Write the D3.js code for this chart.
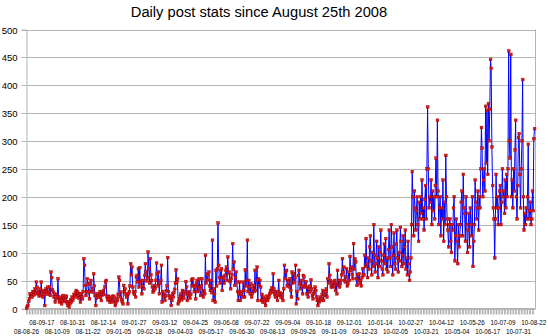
<!DOCTYPE html>
<html><head><meta charset="utf-8">
<script src="https://cdn.jsdelivr.net/npm/d3@7"></script>
<style>
html,body{margin:0;padding:0;background:#fff;}
svg{display:block;font-family:"Liberation Sans",Arial,sans-serif;}
</style></head>
<body><svg id="chart" width="548" height="336"></svg>
<script>
const title = "Daily post stats since August 25th 2008";
const startDate = "2008-08-26";
const yTicks = [0,50,100,150,200,250,300,350,400,450,500];
const labelEvery = 22;
// daily posts, one value per day from 2008-08-26
const posts2008a = [0,3,5,12,17,26,22,25,20,30,29,24,35,28,47,38,26,30,22,35,23,47,30,20,25,32,5,26,35,30,38,25,30,38,23,65,55,33,29,20,26,11,17,25,20,53,18,11,15,20,8,14,23,18,12,15,22,20,10,5,12,2,8,15,11,20,14,18,25,23,28,32,20,29,24,18,26,11,26,20];
const posts2008b = [17,30,89,77,41,23,30,53,44,29,17,44,50,30,35,29,62,40,23,5,18,26,22,20,25,30,20,14,29,24,32,25,38,47,50,20,15,22,17,11,20,16,11,15,22,20,12,5,10,18,14,25,56,50,20,29,15,11,8,41,30,35,26,20,23,8,26,30,40,80];
const posts2009a = [60,74,38,29,25,30,20,56,59,47,71,38,73,45,50,26,40,50,35,59,80,65,49,55,101,71,45,89,60,50,38,29,32,41,35,50,81,62,40,65,26,45,50,77,11,30,20,25,14,22,32,40,91,30,23,18,20,5,14,26,20,28,34,45,69,47,53,8,12,17,22,26,15,32,20,18,26,30,48,38,14,26,30,22,18,25,51,40,53,41];
const posts2009b = [30,38,17,44,50,30,38,53,35,23,40,53,28,20,32,26,95,45,62,51,59,65,40,32,50,28,122,14,35,25,11,68,40,71,153,77,55,45,68,71,32,56,53,45,59,68,74,50,92,63,65,48,35,53,60,116,70,83,41,55,65,47,30,14,26,47,14,25,30,20,47,32,20,69,40,50,122,30,50,38];
const posts2009c = [26,44,20,26,35,41,30,68,32,50,74,14,53,41,50,38,14,25,11,20,15,11,5,17,22,14,18,20,26,32,28,37,30,62,35,25,20,30,23,14,30,50,23,28,20,26,18,14,35,77,53,65,68,40,50,47,38,53,32,20,65,45,62,47,55,77,8,30,17,59,68,44,35,50,40,26,59,56,38,41];
const posts2009d = [48,26,38,20,35,29,40,51,35,23,17,26,30,38,32,20,14,5,15,11,20,14,17,25,32,14,23,26,30,35,20,53,45,80,59,50,38,44,38,47,40,50,32,45,26,68,41,50,38,44,50,60,89,65,74,50,47,56,71,40,44,65,50,93,68,74,60,53,116,70,89,83,53,41,60,50,62,45,50,40];
const posts2010a = [55,71,60,60,95,75,125,80,55,90,70,110,130,85,60,100,75,150,95,65,80,120,90,55,110,75,100,140,85,70,60,95,115,80,125,70,90,65,105,140,90,75,150,110,60,95,135,80,70,115,140,90,65,100,85,145,120,75,95,130,80,110,140,70,90,60,120,80,50,65];
const posts2010b = [90,150,245,200,130,210,180,140,175,200,150,120,190,160,200,170,230,160,180,140,195,220,160,250,361,250,180,200,190,230,150,210,175,200,160,220,269,200,337,210,150,180,200,130,180,160,230,120,190,150];
const posts2010c = [274,200,160,140,110,150,160,120,100,150,140,180,200,85,130,160,120,80,150,110,130,150,190,210,130,240,180,170,120,200,150,100,140,170,110,180,150,130,200,75,120,150,230,190,160,180,210,140,200,180];
const posts2010d = [250,324,287,200,230,250,210,362,260,355,240,367,300,357,446,430,289,220,180,160,90,160,240,180,200,150,180,210,220,150,190,250,200,210,170,230,180,240,200,250,461,300,269,455,200,230,180,250,210,284];
const posts2010e = [337,200,160,220,306,313,240,180,250,300,410,200,140,170,150,180,160,200,294,160,175,190,150,160,210,175,304,322];

const values = [].concat(posts2008a, posts2008b, posts2009a, posts2009b, posts2009c, posts2009d, posts2010a, posts2010b, posts2010c, posts2010d, posts2010e);
const parse = d3.utcParse("%Y-%m-%d");
const t0 = parse(startDate);
const data = values.map((v,i)=>({date:d3.utcDay.offset(t0,i), v}));
const fmt = d3.utcFormat("%y-%m-%d");

const svg = d3.select("#chart");
const L=26.5, R=534.5, T=29.5, B=308.5;
const x = d3.scaleUtc().domain([data[0].date, data[data.length-1].date]).range([L,R]);
const y = d3.scaleLinear().domain([0,500]).range([B,T]);
const grid = "#b4b4b4";

// title
svg.append("text").attr("x",259).attr("y",17).attr("text-anchor","middle")
  .attr("font-size","14.7px").attr("fill","#000").text(title);

// gridlines
svg.append("g").selectAll("line").data(yTicks).join("line")
  .attr("x1",L).attr("x2",R+1).attr("y1",d=>Math.round(y(d))+0.5).attr("y2",d=>Math.round(y(d))+0.5)
  .attr("stroke",grid).attr("stroke-width",1);
svg.append("line").attr("x1",R+1).attr("x2",R+1).attr("y1",y(500)).attr("y2",y(0)).attr("stroke",grid);

// y axis
const yAxis = d3.axisLeft(y).tickValues(yTicks).tickSize(5).tickPadding(4);
const gy = svg.append("g").attr("transform",`translate(${L},0)`).call(yAxis);
gy.select(".domain").attr("stroke",grid);
gy.selectAll(".tick line").attr("stroke",grid);
gy.selectAll(".tick text").attr("font-size","9.5px").attr("fill","#000").attr("font-family","Liberation Sans, Arial, sans-serif");
gy.selectAll(".tick").attr("transform",d=>`translate(0,${Math.round(y(d))+0.5})`);

// x axis minor ticks band
const tickIdx = d3.range(0, data.length, 4);
svg.append("g").selectAll("line").data(tickIdx).join("line")
  .attr("x1",i=>x(data[i].date)+0.5).attr("x2",i=>x(data[i].date)+0.5)
  .attr("y1",B+0.5).attr("y2",B+6).attr("stroke","#b4b4b4").attr("stroke-width",1.8);
svg.append("line").attr("x1",L).attr("x2",R+1).attr("y1",B).attr("y2",B).attr("stroke",grid);

// x labels, two staggered rows
const labelIdx = d3.range(0, data.length, labelEvery);
const lw = 25;
svg.append("g").selectAll("text").data(labelIdx).join("text")
  .attr("x",(i,k,arr)=> k===arr.length-1 ? Math.min(x(data[i].date)+lw/2, 547) : x(data[i].date))
  .attr("y",(i,k)=> k%2===0 ? 334 : 325)
  .attr("text-anchor",(i,k,arr)=> k===arr.length-1 ? "end" : "middle")
  .attr("font-size","8px").attr("fill","#000")
  .attr("textLength",lw).attr("lengthAdjust","spacingAndGlyphs")
  .text(i=>fmt(data[i].date));

// line
const line = d3.line().x(d=>x(d.date)).y(d=>y(d.v));
svg.append("path").datum(data).attr("d",line).attr("fill","none")
  .attr("stroke","#0000ff").attr("stroke-width",1).attr("stroke-linejoin","round");

// markers
svg.append("g").selectAll("rect").data(data).join("rect")
  .attr("x",d=>x(d.date)-1.3).attr("y",d=>y(d.v)-1.6)
  .attr("width",2.8).attr("height",2.8)
  .attr("fill","#d81818").attr("stroke","#a00000").attr("stroke-width",0.4);
</script></body></html>
